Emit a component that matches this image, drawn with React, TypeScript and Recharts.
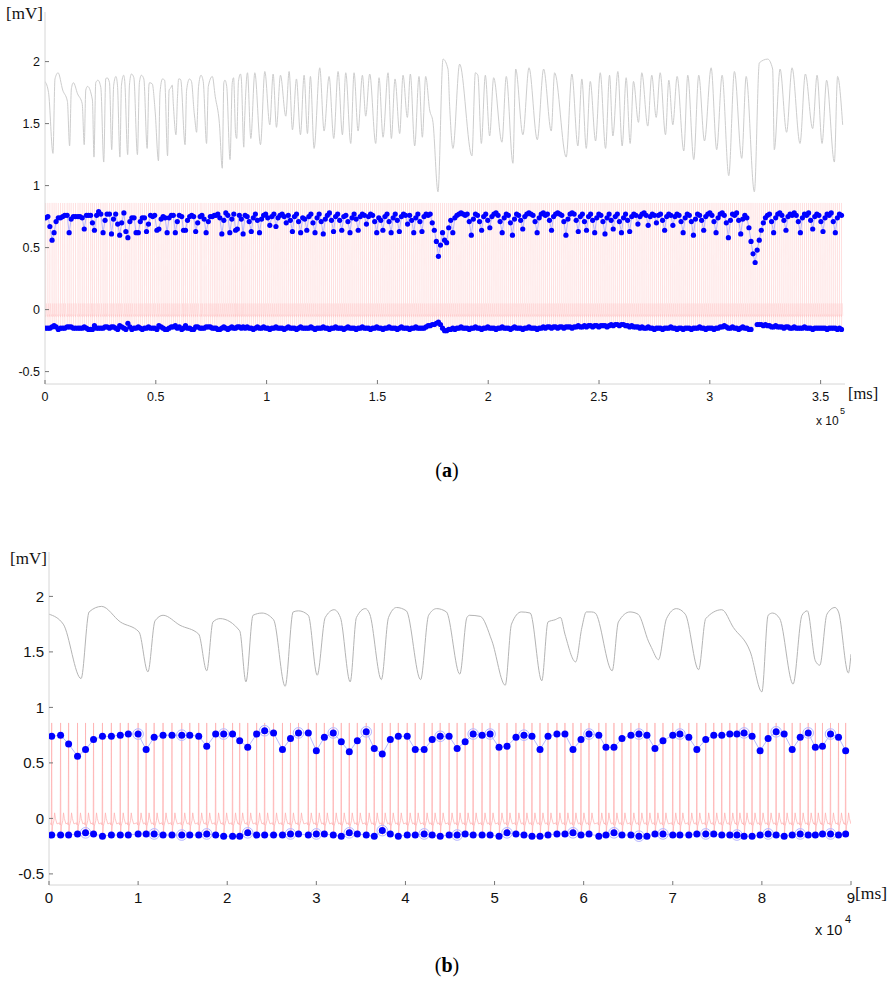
import React from 'react';
import { LineChart, Line, XAxis, YAxis } from 'recharts';

// beat times (ms); panel (a) begins with the same 9e4 ms
const beatTimesB = [
  300, 1300, 2200, 3200, 4100, 5000, 6000, 7000, 8000, 8900,
  10000, 10900, 11800, 12800, 13800, 14900, 15800, 16800, 17700, 18700,
  19600, 20600, 21400, 22300, 23300, 24200, 25200, 26200, 27100, 28000,
  29100, 30000, 30900, 31900, 32800, 33700, 34600, 35600, 36500, 37400,
  38300, 39200, 40200, 41100, 42100, 43000, 43900, 44900, 45800, 46700,
  47600, 48600, 49500, 50500, 51400, 52400, 53300, 54200, 55100, 56000,
  57000, 57900, 58800, 59700, 60600, 61700, 62500, 63400, 64300, 65300,
  66200, 67100, 68000, 68900, 70000, 70800, 71800, 72700, 73700, 74600,
  75500, 76400, 77200, 78000, 78900, 79800, 80700, 81600, 82500, 83400,
  84300, 85200, 86000, 86800, 87700, 88600, 89400,
];

const topB = [
  0.74, 0.75, 0.67, 0.56, 0.62, 0.71, 0.74, 0.74, 0.75, 0.76,
  0.76, 0.62, 0.73, 0.75, 0.75, 0.75, 0.75, 0.74, 0.65, 0.76,
  0.76, 0.76, 0.70, 0.64, 0.76, 0.79, 0.77, 0.62, 0.72, 0.77,
  0.77, 0.61, 0.73, 0.77, 0.69, 0.60, 0.70, 0.78, 0.63, 0.58,
  0.71, 0.74, 0.74, 0.62, 0.62, 0.71, 0.74, 0.74, 0.63, 0.69,
  0.76, 0.75, 0.76, 0.64, 0.65, 0.73, 0.75, 0.74, 0.62, 0.74,
  0.76, 0.76, 0.62, 0.71, 0.76, 0.75, 0.64, 0.64, 0.72, 0.75,
  0.76, 0.75, 0.63, 0.70, 0.75, 0.76, 0.73, 0.62, 0.71, 0.75,
  0.75, 0.76, 0.76, 0.77, 0.74, 0.61, 0.72, 0.78, 0.76, 0.62,
  0.73, 0.77, 0.64, 0.65, 0.76, 0.73, 0.61,
];

const bottomB = [
  -0.15, -0.15, -0.15, -0.14, -0.13, -0.14, -0.16, -0.15, -0.15, -0.15,
  -0.14, -0.14, -0.14, -0.15, -0.15, -0.15, -0.15, -0.15, -0.14, -0.15,
  -0.16, -0.16, -0.16, -0.13, -0.15, -0.15, -0.15, -0.15, -0.14, -0.14,
  -0.15, -0.14, -0.14, -0.15, -0.16, -0.13, -0.14, -0.15, -0.16, -0.11,
  -0.14, -0.16, -0.15, -0.15, -0.14, -0.15, -0.16, -0.15, -0.15, -0.14,
  -0.15, -0.15, -0.15, -0.16, -0.13, -0.14, -0.15, -0.16, -0.16, -0.15,
  -0.14, -0.14, -0.13, -0.15, -0.14, -0.16, -0.15, -0.13, -0.15, -0.15,
  -0.16, -0.16, -0.14, -0.14, -0.15, -0.15, -0.15, -0.14, -0.14, -0.14,
  -0.15, -0.15, -0.15, -0.16, -0.16, -0.15, -0.14, -0.15, -0.16, -0.15,
  -0.14, -0.15, -0.15, -0.14, -0.14, -0.15, -0.14,
];

// panel (a) after 9e4 ms: beats are ~2 px apart there, so they are kept at a fixed sampling step
const beatStartA = 90300;
const beatStepA = 928;

const topAExtra = [
  0.76, 0.75, 0.71, 0.63, 0.74, 0.77, 0.72, 0.62, 0.73, 0.76,
  0.77, 0.74, 0.68, 0.75, 0.77, 0.67, 0.74, 0.76, 0.77, 0.75,
  0.70, 0.76, 0.72, 0.63, 0.75, 0.77, 0.71, 0.62, 0.74, 0.73,
  0.64, 0.75, 0.77, 0.70, 0.62, 0.74, 0.77, 0.71, 0.61, 0.73,
  0.76, 0.78, 0.72, 0.63, 0.75, 0.77, 0.72, 0.64, 0.75, 0.76,
  0.71, 0.62, 0.74, 0.77, 0.73, 0.64, 0.75, 0.77, 0.76, 0.69,
  0.75, 0.77, 0.76, 0.71, 0.62, 0.74, 0.72, 0.64, 0.75, 0.77,
  0.71, 0.62, 0.74, 0.77, 0.72, 0.63, 0.75, 0.77, 0.76, 0.69,
  0.76, 0.72, 0.62, 0.74, 0.77, 0.71, 0.63, 0.75, 0.77, 0.76,
  0.77, 0.70, 0.64, 0.55, 0.43, 0.52, 0.62, 0.56, 0.54, 0.66,
  0.72, 0.62, 0.74, 0.76, 0.77, 0.78, 0.77, 0.76, 0.77, 0.71,
  0.60, 0.73, 0.77, 0.76, 0.71, 0.64, 0.75, 0.77, 0.72, 0.66,
  0.75, 0.77, 0.78, 0.76, 0.71, 0.62, 0.74, 0.77, 0.76, 0.70,
  0.60, 0.73, 0.77, 0.76, 0.72, 0.65, 0.75, 0.77, 0.78, 0.77,
  0.76, 0.71, 0.62, 0.74, 0.77, 0.78, 0.76, 0.77, 0.72, 0.64,
  0.75, 0.77, 0.78, 0.77, 0.76, 0.71, 0.60, 0.73, 0.77, 0.78,
  0.77, 0.72, 0.63, 0.75, 0.77, 0.71, 0.64, 0.75, 0.77, 0.72,
  0.62, 0.74, 0.77, 0.76, 0.71, 0.61, 0.74, 0.77, 0.72, 0.65,
  0.75, 0.77, 0.71, 0.62, 0.74, 0.77, 0.72, 0.63, 0.75, 0.77,
  0.76, 0.69, 0.75, 0.77, 0.78, 0.76, 0.68, 0.75, 0.77, 0.76,
  0.70, 0.76, 0.77, 0.72, 0.64, 0.75, 0.77, 0.76, 0.68, 0.75,
  0.77, 0.76, 0.71, 0.62, 0.74, 0.77, 0.76, 0.71, 0.60, 0.73,
  0.77, 0.76, 0.72, 0.64, 0.75, 0.77, 0.78, 0.76, 0.71, 0.62,
  0.74, 0.77, 0.78, 0.76, 0.70, 0.58, 0.72, 0.77, 0.76, 0.78,
  0.72, 0.61, 0.73, 0.76, 0.74, 0.66, 0.55, 0.45, 0.38, 0.48,
  0.56, 0.64, 0.70, 0.74, 0.76, 0.77, 0.71, 0.62, 0.74, 0.77,
  0.78, 0.76, 0.72, 0.64, 0.75, 0.77, 0.76, 0.78, 0.76, 0.71,
  0.62, 0.74, 0.77, 0.76, 0.78, 0.72, 0.65, 0.75, 0.77, 0.76,
  0.71, 0.63, 0.74, 0.77, 0.76, 0.78, 0.71, 0.62, 0.74, 0.77,
  0.76,
];

const bottomAExtra: (number | null)[] = [
  -0.15, -0.14, -0.15, -0.15, -0.16, -0.15, -0.14, -0.15, -0.15, -0.14,
  -0.15, -0.15, -0.16, -0.15, -0.15, -0.14, -0.15, -0.15, -0.15, -0.16,
  -0.15, -0.14, -0.15, -0.15, -0.15, -0.16, -0.15, -0.14, -0.15, -0.15,
  -0.15, -0.15, -0.14, -0.15, -0.16, -0.15, -0.15, -0.15, -0.14, -0.15,
  -0.15, -0.16, -0.15, -0.15, -0.14, -0.15, -0.15, -0.15, -0.16, -0.15,
  -0.14, -0.15, -0.15, -0.15, -0.16, -0.15, -0.15, -0.14, -0.15, -0.15,
  -0.15, -0.16, -0.15, -0.15, -0.14, -0.15, -0.15, -0.16, -0.15, -0.15,
  -0.14, -0.15, -0.15, -0.15, -0.16, -0.15, -0.14, -0.15, -0.15, -0.15,
  -0.16, -0.15, -0.15, -0.14, -0.15, -0.15, -0.15, -0.15, -0.14, -0.13,
  -0.13, -0.12, -0.12, -0.11, -0.10, -0.12, -0.15, -0.17, -0.17, -0.16,
  -0.16, -0.15, -0.16, -0.15, -0.15, -0.14, -0.15, -0.15, -0.15, -0.16,
  -0.15, -0.15, -0.14, -0.15, -0.15, -0.16, -0.15, -0.15, -0.14, -0.15,
  -0.15, -0.15, -0.16, -0.15, -0.15, -0.14, -0.15, -0.15, -0.15, -0.16,
  -0.15, -0.14, -0.15, -0.15, -0.15, -0.16, -0.15, -0.15, -0.14, -0.15,
  -0.15, -0.15, -0.16, -0.15, -0.15, -0.14, -0.15, -0.14, -0.14, -0.15,
  -0.14, -0.14, -0.15, -0.14, -0.14, -0.15, -0.14, -0.14, -0.14, -0.15,
  -0.14, -0.14, -0.13, -0.14, -0.14, -0.13, -0.14, -0.13, -0.13, -0.14,
  -0.13, -0.13, -0.14, -0.13, -0.13, -0.13, -0.14, -0.13, -0.12, -0.13,
  -0.12, -0.12, -0.13, -0.12, -0.12, -0.13, -0.13, -0.14, -0.13, -0.14,
  -0.14, -0.14, -0.15, -0.14, -0.15, -0.15, -0.14, -0.15, -0.15, -0.16,
  -0.15, -0.15, -0.15, -0.16, -0.15, -0.15, -0.15, -0.14, -0.15, -0.15,
  -0.16, -0.15, -0.15, -0.16, -0.15, -0.15, -0.15, -0.16, -0.15, -0.15,
  -0.15, -0.14, -0.15, -0.15, -0.16, -0.15, -0.15, -0.15, -0.16, -0.15,
  -0.15, -0.14, -0.14, -0.13, -0.14, -0.15, -0.15, -0.14, -0.15, -0.15,
  -0.16, -0.15, -0.14, -0.15, -0.15, -0.16, -0.16, null, null, -0.12,
  -0.12, -0.12, -0.13, -0.12, -0.13, -0.13, -0.14, -0.14, -0.13, -0.14,
  -0.14, -0.14, -0.15, -0.14, -0.14, -0.15, -0.15, -0.14, -0.15, -0.15,
  -0.15, -0.15, -0.14, -0.15, -0.15, -0.15, -0.16, -0.15, -0.15, -0.15,
  -0.15, -0.15, -0.15, -0.16, -0.15, -0.15, -0.15, -0.15, -0.16, -0.15,
  -0.16,
];

// beats (1-based) that carry the pale ring marker in panel (b)
const ringTopB = [11, 16, 21, 26, 30, 34, 38, 47, 51, 53, 57, 65, 71, 76, 84, 88, 92, 95];
const ringBottomB = [5, 13, 16, 19, 24, 29, 32, 36, 40, 45, 49, 55, 63, 68, 71, 74, 79, 83, 87, 91, 95];

// grey trace, [ms, mV]
const breathB: [number, number][] = [
  [0, 1.84], [1600, 1.75], [3600, 1.26], [4500, 1.86], [5900, 1.91], [8000, 1.77], [10100, 1.68],
  [11100, 1.32], [11900, 1.78], [12800, 1.83], [14700, 1.74], [16800, 1.66], [17700, 1.33],
  [18400, 1.77], [19200, 1.8], [21400, 1.69], [22100, 1.23], [22900, 1.83], [23900, 1.85],
  [25200, 1.79], [26500, 1.19], [27400, 1.86], [28000, 1.87], [29100, 1.83], [30100, 1.29],
  [31000, 1.81], [32000, 1.88], [32700, 1.81], [33800, 1.23], [34500, 1.81], [35500, 1.89],
  [36000, 1.84], [37300, 1.25], [38100, 1.81], [39000, 1.9], [40100, 1.87], [41700, 1.25],
  [42600, 1.83], [43500, 1.89], [44600, 1.86], [46100, 1.3], [46900, 1.81], [47200, 1.83],
  [48400, 1.82], [49700, 1.6], [51200, 1.2], [51900, 1.75], [53000, 1.86], [54000, 1.85],
  [55300, 1.24], [56000, 1.77], [56800, 1.79], [57400, 1.81], [57900, 1.66], [59100, 1.41],
  [59800, 1.72], [60300, 1.86], [60900, 1.86], [61300, 1.85], [63200, 1.33], [63900, 1.77],
  [65200, 1.86], [66100, 1.84], [67300, 1.59], [67600, 1.54], [68400, 1.43], [69300, 1.8],
  [70400, 1.89], [71400, 1.84], [72900, 1.34], [73700, 1.8], [75500, 1.88], [76800, 1.72],
  [78700, 1.5], [80000, 1.14], [80700, 1.83], [81200, 1.85], [82000, 1.8], [83500, 1.21],
  [84500, 1.83], [85100, 1.87], [86000, 1.42], [86500, 1.38], [87300, 1.84], [88200, 1.9],
  [88600, 1.86], [89700, 1.31], [90000, 1.48],
];

// rest of the grey trace in panel (a)
const breathAExtra: [number, number][] = [
  [91375, 1.91], [92880, 1.38], [94680, 1.91], [97235, 1.33], [99190, 1.92], [101440, 1.49],
  [102945, 1.9], [104450, 1.47], [106250, 1.89], [108660, 1.56], [110160, 1.92], [111665, 1.45],
  [113470, 1.86], [115270, 1.41], [116920, 1.89], [118425, 1.42], [119780, 1.88], [121430, 1.3],
  [123985, 1.95], [125940, 1.44], [128195, 1.88], [130300, 1.38], [132250, 1.92], [134210, 1.41],
  [135710, 1.91], [137965, 1.34], [139465, 1.91], [141270, 1.44], [143225, 1.89], [144725, 1.56],
  [146530, 1.9], [149235, 1.34], [150735, 1.87], [152540, 1.39], [154795, 1.91], [156300, 1.38],
  [157950, 1.86], [160055, 1.42], [161555, 1.89], [163510, 1.55], [164865, 1.9], [166820, 1.32],
  [168770, 1.88], [170275, 1.39], [171780, 1.88], [173580, 1.61], [175085, 1.51], [177340, 0.95],
  [179600, 2.02], [181850, 1.94], [182600, 1.64], [184100, 1.3], [187100, 1.98], [192650, 1.24],
  [194200, 1.91], [195350, 1.89], [196900, 1.34], [198700, 1.89], [200650, 1.4], [202450, 1.87],
  [206200, 1.35], [208150, 1.88], [211150, 1.18], [212400, 1.94], [215650, 1.41], [218400, 1.95],
  [222150, 1.37], [225000, 1.94], [228450, 1.44], [229950, 1.91], [235200, 1.23], [237750, 1.9],
  [240450, 1.32], [242250, 1.86], [244250, 1.3], [246050, 1.84], [248450, 1.36], [250550, 1.91],
  [252950, 1.3], [254750, 1.89], [256250, 1.4], [258500, 1.92], [260450, 1.32], [262250, 1.87],
  [264050, 1.34], [265550, 1.84], [267800, 1.51], [269300, 1.91], [272000, 1.48], [273800, 1.89],
  [275800, 1.55], [277600, 1.91], [280000, 1.41], [281500, 1.85], [283300, 1.49], [285250, 1.88],
  [288250, 1.28], [290050, 1.89], [292750, 1.21], [295000, 1.89], [297600, 1.36], [300600, 1.95],
  [303100, 1.29], [305550, 1.89], [308550, 1.08], [311100, 1.92], [314400, 1.22], [316400, 1.88],
  [320100, 0.95], [322350, 1.99], [326100, 2.02], [328350, 1.94], [329100, 1.29], [331700, 1.94],
  [334650, 1.43], [337100, 1.95], [340700, 1.34], [343100, 1.9], [346400, 1.46], [348400, 1.89],
  [350650, 1.34], [352700, 1.85], [356200, 1.19], [357650, 1.88], [359950, 1.49],
];

// one ECG complex around its R peak, [ms offset, mV]
const ecgShape: [number, number][] = [
  [-120, -0.04], [-40, -0.06], [0, 0.86], [30, -0.15], [90, -0.07],
  [250, -0.02], [330, 0.05], [420, 0.0], [600, -0.05],
];

const yTicks = [-0.5, 0, 0.5, 1, 1.5, 2];
const xTicksA = [0, 50000, 100000, 150000, 200000, 250000, 300000, 350000];
const xTicksB = [0, 10000, 20000, 30000, 40000, 50000, 60000, 70000, 80000, 90000];

const SANS = '"Liberation Sans", Arial, sans-serif';
const SERIF = '"Liberation Serif", "Times New Roman", serif';

type Pt = { t: number; v: number | null };
const pts = (ts: number[], vs: (number | null)[]): Pt[] => ts.map((t, i) => ({ t, v: vs[i] }));
const pairs = (p: [number, number][]): Pt[] => p.map(([t, v]) => ({ t, v }));
const ecgFrom = (ts: number[]): Pt[] => ts.flatMap((t) => ecgShape.map(([dt, v]) => ({ t: t + dt, v })));
const pick = (ts: number[], vs: number[], idx: number[]): Pt[] => idx.map((i) => ({ t: ts[i - 1], v: vs[i - 1] }));

const beatTimesAExtra = topAExtra.map((_, k) => beatStartA + k * beatStepA);
const beatTimesA = [...beatTimesB, ...beatTimesAExtra];
const topA = [...topB, ...topAExtra];
const bottomA = [...bottomB, ...bottomAExtra];

type PanelProps = {
  top: number;
  height: number;
  plotLeft: number;
  plotRight: number;
  plotTop: number;
  plotBottom: number;
  xMax: number;
  xTicks: number[];
  xDiv: number;
  fs: number;
  labelOffset: number;
  breath: Pt[];
  breathColor: string;
  ecg: Pt[];
  ecgColor: string;
  ecgOpacity: number;
  ecgWidth: number;
  upper: Pt[];
  lower: Pt[];
  dotR: number;
  ringsUp?: Pt[];
  ringsLow?: Pt[];
};

const Panel = (p: PanelProps) => {
  const width = 894;
  const yAxisWidth = p.plotLeft - 4;
  const xAxisHeight = p.height - p.plotBottom;
  const yTick = (props: any) => {
    const y = props.y;
    return (
      <g>
        <line x1={p.plotLeft} x2={p.plotLeft + 4} y1={y} y2={y} stroke="#777" />
        <text x={p.plotLeft - 5} y={y + p.fs * 0.36} textAnchor="end" fontSize={p.fs} fontFamily={SANS} fill="#111">
          {props.payload.value}
        </text>
      </g>
    );
  };
  const xTick = (props: any) => {
    const x = props.x;
    return (
      <g>
        <line x1={x} x2={x} y1={p.plotBottom - 4} y2={p.plotBottom} stroke="#777" />
        <text x={x} y={p.plotBottom + p.labelOffset} textAnchor="middle" fontSize={p.fs} fontFamily={SANS} fill="#111">
          {props.payload.value / p.xDiv}
        </text>
      </g>
    );
  };
  const dots = { r: p.dotR, fill: '#0000ff', stroke: 'none' };
  const ring = { r: p.dotR + 1.8, fill: 'none', stroke: '#b4b4ff', strokeWidth: 1 };
  return (
    <div style={{ position: 'absolute', left: 0, top: p.top }}>
      <LineChart
        width={width}
        height={p.height}
        margin={{ top: p.plotTop, right: width - p.plotRight, left: 4, bottom: 0 }}
      >
        <XAxis
          dataKey="t"
          type="number"
          domain={[0, p.xMax]}
          ticks={p.xTicks}
          allowDataOverflow
          height={xAxisHeight}
          tickLine={false}
          tickSize={0}
          tickMargin={0}
          axisLine={{ stroke: '#d6d6d6' }}
          tick={xTick}
          interval={0}
        />
        <YAxis
          dataKey="v"
          type="number"
          domain={[-0.6, 2.4]}
          ticks={yTicks}
          allowDataOverflow
          width={yAxisWidth}
          tickLine={false}
          tickSize={0}
          tickMargin={5}
          axisLine={{ stroke: '#d6d6d6' }}
          tick={yTick}
          interval={0}
        />
        <Line data={p.ecg} dataKey="v" type="linear" stroke={p.ecgColor} strokeOpacity={p.ecgOpacity} strokeWidth={p.ecgWidth} dot={false} activeDot={false} isAnimationActive={false} />
        <Line data={p.breath} dataKey="v" type="monotone" stroke={p.breathColor} strokeWidth={1} dot={false} activeDot={false} isAnimationActive={false} />
        {p.ringsUp && (
          <Line data={p.ringsUp} dataKey="v" stroke="none" dot={ring} activeDot={false} isAnimationActive={false} />
        )}
        {p.ringsLow && (
          <Line data={p.ringsLow} dataKey="v" stroke="none" dot={ring} activeDot={false} isAnimationActive={false} />
        )}
        <Line data={p.upper} dataKey="v" type="linear" stroke="#b8b8ff" strokeWidth={1} dot={dots} activeDot={false} isAnimationActive={false} />
        <Line data={p.lower} dataKey="v" type="linear" stroke="#b8b8ff" strokeWidth={1} dot={dots} activeDot={false} isAnimationActive={false} />
      </LineChart>
    </div>
  );
};

const App = () => {
  return (
    <div style={{ position: 'absolute', left: 0, top: 0, width: 894, height: 1000, background: '#fff' }}>
      <Panel
        top={0}
        height={414}
        plotLeft={45}
        plotRight={845}
        plotTop={12}
        plotBottom={384}
        xMax={361000}
        xTicks={xTicksA}
        xDiv={100000}
        fs={12.5}
        labelOffset={17}
        breath={[...pairs(breathB), ...pairs(breathAExtra)]}
        breathColor="#cdcdcd"
        ecg={ecgFrom(beatTimesA)}
        ecgColor="#ff9c9c"
        ecgOpacity={0.22}
        ecgWidth={0.8}
        upper={pts(beatTimesA, topA)}
        lower={pts(beatTimesA, bottomA)}
        dotR={2.6}
      />
      <Panel
        top={540}
        height={375}
        plotLeft={49}
        plotRight={851}
        plotTop={12}
        plotBottom={345}
        xMax={90000}
        xTicks={xTicksB}
        xDiv={10000}
        fs={15}
        labelOffset={18}
        breath={pairs(breathB)}
        breathColor="#b4b4b4"
        ecg={ecgFrom(beatTimesB)}
        ecgColor="#ffb0b0"
        ecgOpacity={0.75}
        ecgWidth={1}
        upper={pts(beatTimesB, topB)}
        lower={pts(beatTimesB, bottomB)}
        dotR={3.5}
        ringsUp={pick(beatTimesB, topB, ringTopB)}
        ringsLow={pick(beatTimesB, bottomB, ringBottomB)}
      />
      <svg width={894} height={1000} style={{ position: 'absolute', left: 0, top: 0, pointerEvents: 'none' }}>
        <text x={6} y={19} fontSize={17} fontFamily={SERIF} fill="#111">[mV]</text>
        <text x={848} y={399} fontSize={16.5} fontFamily={SERIF} fill="#111">[ms]</text>
        <text x={816} y={425} fontSize={12} fontFamily={SANS} fill="#111">x 10</text>
        <text x={840} y={414} fontSize={9} fontFamily={SANS} fill="#111">5</text>
        <text x={447} y={477} fontSize={20} fontFamily={SERIF} fill="#000" textAnchor="middle">
          (<tspan fontWeight="bold">a</tspan>)
        </text>
        <text x={10} y={564} fontSize={17} fontFamily={SERIF} fill="#111">[mV]</text>
        <text x={855} y={899} fontSize={17.5} fontFamily={SERIF} fill="#111">[ms]</text>
        <text x={815} y={935} fontSize={14.5} fontFamily={SANS} fill="#111">x 10</text>
        <text x={845} y={923} fontSize={11} fontFamily={SANS} fill="#111">4</text>
        <text x={447} y={972} fontSize={20} fontFamily={SERIF} fill="#000" textAnchor="middle">
          (<tspan fontWeight="bold">b</tspan>)
        </text>
      </svg>
    </div>
  );
};

export default App;
